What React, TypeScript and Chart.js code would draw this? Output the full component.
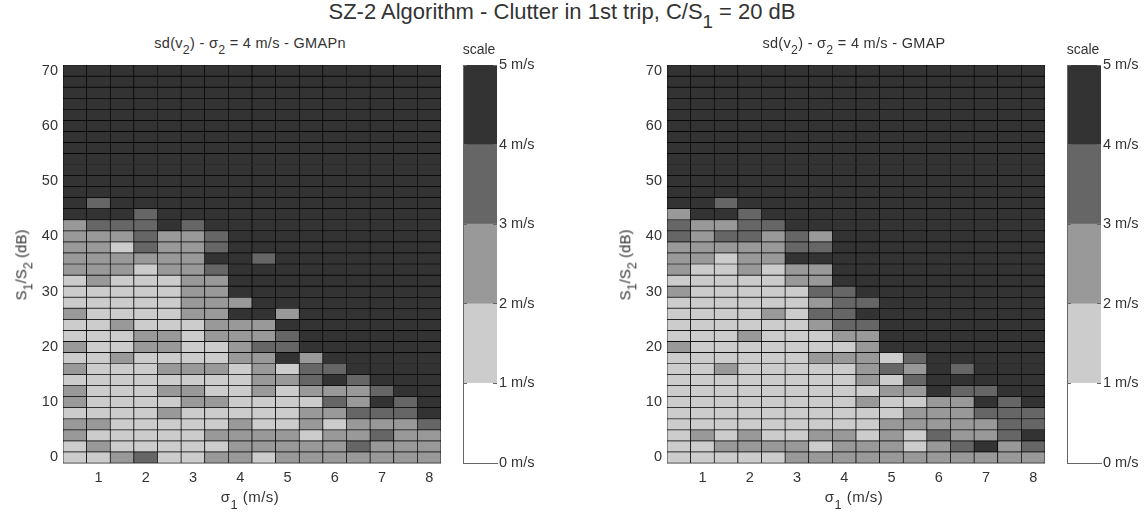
import React, { useEffect, useRef } from "react";
import { Chart, registerables } from "chart.js";

Chart.register(...registerables);

const sigma1Labels = ["0.5", "1", "1.5", "2", "2.5", "3", "3.5", "4", "4.5", "5", "5.5", "6", "6.5", "7", "7.5", "8"];
const snrRows = [70, 68, 66, 64, 62, 60, 58, 56, 54, 52, 50, 48, 46, 44, 42, 40, 38, 36, 34, 32, 30, 28, 26, 24, 22, 20, 18, 16, 14, 12, 10, 8, 6, 4, 2, 0];
const yTicks = [0, 10, 20, 30, 40, 50, 60, 70];

// lower edge (m/s) of the scale bin of each cell, row by row from 70 dB to 0 dB
const gmapnBins = [
  [4, 4, 4, 4, 4, 4, 4, 4, 4, 4, 4, 4, 4, 4, 4, 4],
  [4, 4, 4, 4, 4, 4, 4, 4, 4, 4, 4, 4, 4, 4, 4, 4],
  [4, 4, 4, 4, 4, 4, 4, 4, 4, 4, 4, 4, 4, 4, 4, 4],
  [4, 4, 4, 4, 4, 4, 4, 4, 4, 4, 4, 4, 4, 4, 4, 4],
  [4, 4, 4, 4, 4, 4, 4, 4, 4, 4, 4, 4, 4, 4, 4, 4],
  [4, 4, 4, 4, 4, 4, 4, 4, 4, 4, 4, 4, 4, 4, 4, 4],
  [4, 4, 4, 4, 4, 4, 4, 4, 4, 4, 4, 4, 4, 4, 4, 4],
  [4, 4, 4, 4, 4, 4, 4, 4, 4, 4, 4, 4, 4, 4, 4, 4],
  [4, 4, 4, 4, 4, 4, 4, 4, 4, 4, 4, 4, 4, 4, 4, 4],
  [4, 4, 4, 4, 4, 4, 4, 4, 4, 4, 4, 4, 4, 4, 4, 4],
  [4, 4, 4, 4, 4, 4, 4, 4, 4, 4, 4, 4, 4, 4, 4, 4],
  [4, 4, 4, 4, 4, 4, 4, 4, 4, 4, 4, 4, 4, 4, 4, 4],
  [4, 3, 4, 4, 4, 4, 4, 4, 4, 4, 4, 4, 4, 4, 4, 4],
  [4, 4, 4, 3, 4, 4, 4, 4, 4, 4, 4, 4, 4, 4, 4, 4],
  [2, 3, 3, 3, 4, 3, 4, 4, 4, 4, 4, 4, 4, 4, 4, 4],
  [2, 2, 2, 3, 2, 2, 3, 4, 4, 4, 4, 4, 4, 4, 4, 4],
  [2, 2, 1, 3, 2, 2, 3, 4, 4, 4, 4, 4, 4, 4, 4, 4],
  [2, 2, 2, 2, 2, 2, 4, 4, 3, 4, 4, 4, 4, 4, 4, 4],
  [2, 2, 2, 1, 2, 2, 3, 4, 4, 4, 4, 4, 4, 4, 4, 4],
  [1, 2, 1, 1, 1, 2, 2, 4, 4, 4, 4, 4, 4, 4, 4, 4],
  [1, 1, 1, 1, 1, 2, 2, 4, 4, 4, 4, 4, 4, 4, 4, 4],
  [1, 1, 1, 1, 1, 2, 2, 2, 4, 4, 4, 4, 4, 4, 4, 4],
  [2, 1, 1, 1, 1, 2, 2, 4, 4, 2, 4, 4, 4, 4, 4, 4],
  [1, 1, 2, 1, 1, 1, 2, 2, 2, 4, 4, 4, 4, 4, 4, 4],
  [1, 1, 1, 2, 2, 1, 2, 2, 2, 3, 4, 4, 4, 4, 4, 4],
  [2, 1, 1, 2, 2, 1, 1, 2, 3, 3, 4, 4, 4, 4, 4, 4],
  [1, 1, 2, 1, 1, 1, 1, 2, 2, 4, 2, 4, 4, 4, 4, 4],
  [2, 1, 1, 1, 2, 2, 2, 1, 2, 1, 3, 3, 4, 4, 4, 4],
  [1, 1, 1, 1, 1, 1, 1, 1, 2, 2, 3, 4, 3, 4, 4, 4],
  [2, 1, 1, 1, 2, 2, 1, 1, 2, 1, 2, 2, 2, 3, 4, 4],
  [2, 1, 1, 1, 1, 2, 2, 1, 1, 1, 1, 3, 2, 4, 3, 4],
  [1, 1, 1, 1, 2, 1, 1, 1, 1, 1, 2, 2, 3, 3, 3, 4],
  [2, 2, 1, 1, 1, 1, 1, 2, 1, 1, 2, 1, 2, 2, 2, 3],
  [2, 1, 1, 1, 1, 1, 2, 2, 2, 2, 1, 2, 2, 3, 2, 2],
  [1, 2, 1, 1, 1, 1, 1, 2, 2, 2, 2, 2, 3, 2, 2, 2],
  [1, 1, 2, 3, 1, 1, 2, 2, 1, 2, 2, 2, 2, 2, 2, 2],
];

const gmapBins = [
  [4, 4, 4, 4, 4, 4, 4, 4, 4, 4, 4, 4, 4, 4, 4, 4],
  [4, 4, 4, 4, 4, 4, 4, 4, 4, 4, 4, 4, 4, 4, 4, 4],
  [4, 4, 4, 4, 4, 4, 4, 4, 4, 4, 4, 4, 4, 4, 4, 4],
  [4, 4, 4, 4, 4, 4, 4, 4, 4, 4, 4, 4, 4, 4, 4, 4],
  [4, 4, 4, 4, 4, 4, 4, 4, 4, 4, 4, 4, 4, 4, 4, 4],
  [4, 4, 4, 4, 4, 4, 4, 4, 4, 4, 4, 4, 4, 4, 4, 4],
  [4, 4, 4, 4, 4, 4, 4, 4, 4, 4, 4, 4, 4, 4, 4, 4],
  [4, 4, 4, 4, 4, 4, 4, 4, 4, 4, 4, 4, 4, 4, 4, 4],
  [4, 4, 4, 4, 4, 4, 4, 4, 4, 4, 4, 4, 4, 4, 4, 4],
  [4, 4, 4, 4, 4, 4, 4, 4, 4, 4, 4, 4, 4, 4, 4, 4],
  [4, 4, 4, 4, 4, 4, 4, 4, 4, 4, 4, 4, 4, 4, 4, 4],
  [4, 4, 4, 4, 4, 4, 4, 4, 4, 4, 4, 4, 4, 4, 4, 4],
  [4, 4, 3, 4, 4, 4, 4, 4, 4, 4, 4, 4, 4, 4, 4, 4],
  [2, 4, 4, 3, 4, 4, 4, 4, 4, 4, 4, 4, 4, 4, 4, 4],
  [3, 2, 2, 3, 3, 4, 4, 4, 4, 4, 4, 4, 4, 4, 4, 4],
  [3, 2, 3, 3, 2, 3, 2, 4, 4, 4, 4, 4, 4, 4, 4, 4],
  [2, 2, 2, 2, 2, 3, 3, 4, 4, 4, 4, 4, 4, 4, 4, 4],
  [2, 2, 1, 2, 2, 4, 4, 4, 4, 4, 4, 4, 4, 4, 4, 4],
  [2, 1, 1, 2, 1, 2, 2, 4, 4, 4, 4, 4, 4, 4, 4, 4],
  [1, 1, 1, 1, 1, 2, 2, 4, 4, 4, 4, 4, 4, 4, 4, 4],
  [2, 1, 1, 1, 1, 1, 3, 3, 4, 4, 4, 4, 4, 4, 4, 4],
  [1, 1, 1, 1, 1, 1, 2, 3, 3, 4, 4, 4, 4, 4, 4, 4],
  [1, 1, 1, 1, 2, 1, 3, 3, 4, 4, 4, 4, 4, 4, 4, 4],
  [1, 1, 1, 1, 1, 1, 2, 3, 3, 4, 4, 4, 4, 4, 4, 4],
  [1, 1, 1, 2, 1, 1, 1, 2, 2, 4, 4, 4, 4, 4, 4, 4],
  [2, 1, 1, 1, 1, 1, 1, 1, 2, 4, 4, 4, 4, 4, 4, 4],
  [1, 1, 1, 1, 1, 1, 2, 2, 2, 1, 3, 4, 4, 4, 4, 4],
  [1, 1, 2, 1, 1, 1, 1, 1, 2, 3, 2, 4, 3, 4, 4, 4],
  [1, 1, 1, 1, 1, 1, 1, 1, 2, 1, 3, 4, 4, 4, 4, 4],
  [1, 1, 1, 1, 1, 1, 1, 1, 1, 2, 2, 4, 3, 3, 4, 4],
  [1, 1, 1, 1, 1, 1, 1, 1, 2, 1, 1, 2, 2, 4, 3, 4],
  [1, 1, 1, 1, 1, 1, 1, 1, 1, 1, 2, 2, 2, 3, 3, 3],
  [1, 1, 1, 1, 1, 1, 1, 1, 1, 2, 2, 2, 2, 2, 3, 3],
  [1, 2, 1, 2, 1, 1, 2, 2, 1, 2, 1, 3, 2, 2, 3, 4],
  [1, 1, 2, 2, 2, 2, 1, 2, 2, 2, 1, 2, 3, 4, 2, 3],
  [1, 1, 1, 1, 1, 2, 2, 2, 2, 2, 2, 2, 2, 2, 2, 2],
];

const scaleBins = [0, 1, 2, 3, 4];
const scaleTicks = [0, 1, 2, 3, 4, 5];
const binColors = ["#ffffff", "#cccccc", "#999999", "#666666", "#333333"];

const FONT = "'Liberation Sans', Arial, sans-serif";
const TEXT = "#333333";
const AXIS = "#666666";
const TICK_SIZE = 14.5;
const PLOT_TOP = 65;
const PLOT_HEIGHT = 398;
const PLOT_WIDTH = 378;
const Y_AXIS_W = 40;
const X_AXIS_H = 30;
const BAR_W = 34;
const BAR_LABEL_W = 48;
const BAR_MARGIN = 10;

const noPadding = (s: any) => {
  s.paddingTop = 0;
  s.paddingBottom = 0;
  s.paddingLeft = 0;
  s.paddingRight = 0;
};

function Heatmap({ left, bins }: { left: number; bins: number[][] }) {
  const ref = useRef<HTMLCanvasElement>(null);
  useEffect(() => {
    const chart = new Chart(ref.current!, {
      type: "bar",
      data: {
        labels: sigma1Labels,
        datasets: snrRows.map((snr, r) => ({
          label: `${snr} dB`,
          data: sigma1Labels.map(() => [snr - 1, snr + 1]),
          backgroundColor: bins[r].map((b) => binColors[b]),
          borderColor: "#000000",
          borderWidth: 0.7,
          borderSkipped: false,
          grouped: false,
          barPercentage: 1,
          categoryPercentage: 1,
        })),
      } as any,
      options: {
        animation: false,
        responsive: false,
        layout: { padding: 0 },
        plugins: { legend: { display: false }, tooltip: { enabled: false } },
        scales: {
          x: {
            type: "category",
            grid: { display: false, drawTicks: false },
            border: { color: "#999999" },
            afterFit: (s: any) => { s.height = X_AXIS_H; noPadding(s); },
            ticks: {
              autoSkip: false,
              maxRotation: 0,
              padding: 6,
              color: TEXT,
              font: { family: FONT, size: TICK_SIZE },
              callback(this: any, v: any) {
                const l = this.getLabelForValue(v);
                return l.includes(".") ? "" : l;
              },
            },
          },
          y: {
            type: "linear",
            min: -1,
            max: 71,
            grid: { display: false, drawTicks: false },
            border: { color: "#999999" },
            afterFit: (s: any) => { s.width = Y_AXIS_W; noPadding(s); },
            afterBuildTicks: (s: any) => { s.ticks = yTicks.map((value) => ({ value })); },
            ticks: {
              padding: 5,
              color: TEXT,
              font: { family: FONT, size: TICK_SIZE },
            },
          },
        },
      } as any,
    });
    return () => chart.destroy();
  }, [bins]);
  return (
    <canvas
      ref={ref}
      width={PLOT_WIDTH + Y_AXIS_W}
      height={PLOT_HEIGHT + X_AXIS_H}
      style={{ position: "absolute", left: left - Y_AXIS_W, top: PLOT_TOP, display: "block" }}
    />
  );
}

function ScaleBar({ left }: { left: number }) {
  const ref = useRef<HTMLCanvasElement>(null);
  useEffect(() => {
    const chart = new Chart(ref.current!, {
      type: "bar",
      data: {
        labels: ["scale"],
        datasets: scaleBins.map((b) => ({
          label: `${b} m/s`,
          data: [[b, b + 1]],
          backgroundColor: binColors[b],
          borderWidth: 0,
          grouped: false,
          barPercentage: 1,
          categoryPercentage: 1,
        })),
      } as any,
      options: {
        animation: false,
        responsive: false,
        layout: { padding: { top: BAR_MARGIN, bottom: BAR_MARGIN, left: 0, right: 0 } },
        plugins: { legend: { display: false }, tooltip: { enabled: false } },
        scales: {
          x: {
            type: "category",
            grid: { display: false, drawTicks: false },
            border: { color: AXIS, z: 1 },
            afterFit: (s: any) => { s.height = 0; noPadding(s); },
            ticks: { display: false },
          },
          yl: {
            type: "linear",
            position: "left",
            min: 0,
            max: 5,
            border: { color: AXIS, z: 1 },
            afterFit: (s: any) => { s.width = 1; noPadding(s); },
            afterBuildTicks: (s: any) => { s.ticks = scaleTicks.map((value) => ({ value })); },
            grid: { drawOnChartArea: false, tickLength: -4, color: AXIS, z: 1 },
            ticks: { display: false },
          },
          y: {
            type: "linear",
            position: "right",
            min: 0,
            max: 5,
            border: { display: false },
            afterFit: (s: any) => { s.width = BAR_LABEL_W; noPadding(s); },
            afterBuildTicks: (s: any) => { s.ticks = scaleTicks.map((value) => ({ value })); },
            grid: { drawOnChartArea: false, tickLength: -4, color: AXIS, z: 1 },
            ticks: {
              padding: 6,
              color: TEXT,
              font: { family: FONT, size: TICK_SIZE },
              callback: (v: any) => `${v} m/s`,
            },
          },
        },
      } as any,
    });
    return () => chart.destroy();
  }, []);
  return (
    <canvas
      ref={ref}
      width={BAR_W + BAR_LABEL_W + 1}
      height={PLOT_HEIGHT + 2 * BAR_MARGIN}
      style={{ position: "absolute", left: left - 1, top: PLOT_TOP - BAR_MARGIN, display: "block" }}
    />
  );
}

const subStyle: React.CSSProperties = { fontSize: "0.85em", lineHeight: 0, verticalAlign: "-0.5em" };

function Label({ x, y, size, rotate, spacing, children }: any) {
  return (
    <div
      style={{
        position: "absolute",
        left: x,
        top: y,
        transform: `translate(-50%, -50%)${rotate ? " rotate(-90deg)" : ""}`,
        whiteSpace: "nowrap",
        fontFamily: FONT,
        fontSize: size,
        letterSpacing: spacing ?? 0,
        color: TEXT,
        lineHeight: 1,
      }}
    >
      {children}
    </div>
  );
}

function Panel({ plotLeft, barLeft, name, bins }: { plotLeft: number; barLeft: number; name: string; bins: number[][] }) {
  const cx = plotLeft + PLOT_WIDTH / 2;
  return (
    <>
      <Heatmap left={plotLeft} bins={bins} />
      <ScaleBar left={barLeft} />
      <Label x={cx - 2} y={43} size={14.5} spacing={0.3}>
        sd(v<span style={subStyle}>2</span>) - σ<span style={subStyle}>2</span> = 4 m/s - {name}
      </Label>
      <Label x={cx - 2} y={497} size={15} spacing={0.5}>
        σ<span style={subStyle}>1</span> (m/s)
      </Label>
      <Label x={plotLeft - 42} y={265} size={15} rotate>
        S<span style={subStyle}>1</span>/S<span style={subStyle}>2</span> (dB)
      </Label>
      <Label x={barLeft + 16} y={49} size={14}>
        scale
      </Label>
    </>
  );
}

export default function App() {
  return (
    <div style={{ position: "absolute", left: 0, top: 0, width: 1148, height: 514, overflow: "hidden", background: "#fff" }}>
      <Label x={562} y={12} size={22}>
        SZ-2 Algorithm - Clutter in 1st trip, C/S<span style={subStyle}>1</span> = 20 dB
      </Label>
      <Panel plotLeft={63} barLeft={463} name="GMAPn" bins={gmapnBins} />
      <Panel plotLeft={667} barLeft={1067} name="GMAP" bins={gmapBins} />
    </div>
  );
}
